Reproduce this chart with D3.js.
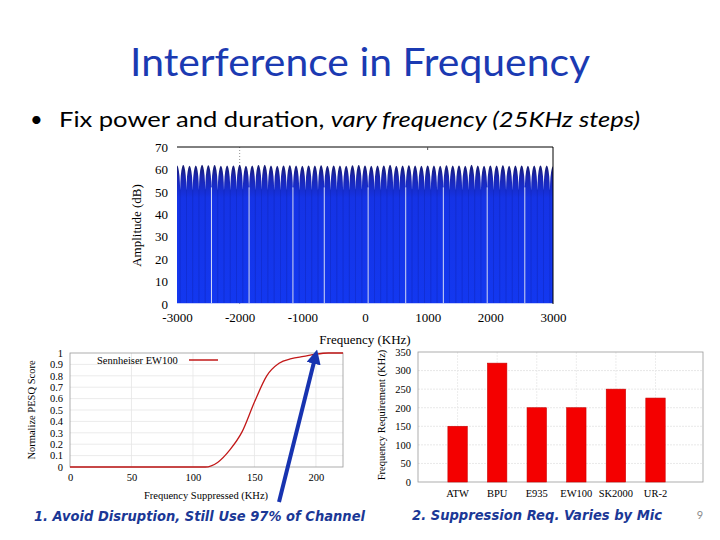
<!DOCTYPE html>
<html>
<head>
<meta charset="utf-8">
<script src="https://cdn.jsdelivr.net/npm/d3@7"></script>
<style>
  body { margin: 0; background: #fff; }
  svg { display: block; }
</style>
</head>
<body>
<div id="slide"></div>
<script>
// --- data ---
// spectrum sweep: one lobe every 100 KHz
const peakFreqs = [-3000, -2900, -2800, -2700, -2600, -2500, -2400, -2300, -2200, -2100,
    -2000, -1900, -1800, -1700, -1600, -1500, -1400, -1300, -1200, -1100,
    -1000, -900, -800, -700, -600, -500, -400, -300, -200, -100,
    0, 100, 200, 300, 400, 500, 600, 700, 800, 900,
    1000, 1100, 1200, 1300, 1400, 1500, 1600, 1700, 1800, 1900,
    2000, 2100, 2200, 2300, 2400, 2500, 2600, 2700, 2800, 2900, 3000];
const peakAmps = [61.8, 62.0, 61.6, 61.7, 62.1, 61.9, 62.0, 61.6, 61.7, 61.8,
    62.1, 61.6, 61.7, 62.0, 62.1, 61.7, 61.6, 61.8, 61.9, 61.7,
    61.6, 61.8, 61.7, 61.9, 61.6, 61.8, 61.7, 61.6, 61.9, 62.0,
    61.8, 61.6, 61.7, 61.8, 62.1, 61.6, 61.7, 61.9, 61.7, 61.6,
    61.8, 61.7, 61.6, 61.9, 61.7, 61.8, 61.6, 62.1, 61.7, 61.6,
    61.8, 61.7, 61.9, 61.6, 61.7, 61.8, 61.6, 61.7, 61.8, 61.7, 61.4];
// lobe profile: offset from peak (KHz) and drop below peak (dB)
const lobeOffsets = [-50, -46, -40, -30, -20, -10, 0, 10, 20, 30, 40, 46, 50];
const lobeDrops = [11, 7.5, 4.8, 2.5, 1.1, 0.3, 0, 0.3, 1.1, 2.5, 4.8, 7.5, 11];
// places where the plot shows a white seam down to the floor
const seamFreqs = [-2450, -1850, -1150, -650, 50, 650, 1250, 1950, 2550];
const ampTicks = [0, 10, 20, 30, 40, 50, 60, 70];
const freqTicks = [-3000, -2000, -1000, 0, 1000, 2000, 3000];

// PESQ vs suppressed bandwidth
const suppKHz = [0, 10, 20, 30, 40, 50, 60, 70, 80, 90, 100, 110, 120, 130, 140, 150, 160, 170, 180, 190, 200, 210, 222];
const pesqScore = [0, 0, 0, 0, 0, 0, 0, 0, 0, 0, 0, 0, 0.04, 0.15, 0.31, 0.57, 0.8, 0.91, 0.95, 0.97, 0.99, 1.0, 1.0];
const pesqTicks = [0, 0.1, 0.2, 0.3, 0.4, 0.5, 0.6, 0.7, 0.8, 0.9, 1];
const suppTicks = [0, 50, 100, 150, 200];

// suppression requirement per microphone
const mics = ['ATW', 'BPU', 'E935', 'EW100', 'SK2000', 'UR-2'];
const reqKHz = [150, 320, 200, 200, 250, 226];
const reqTicks = [0, 50, 100, 150, 200, 250, 300, 350];

const W = 720, H = 540;
const serif = '"Liberation Serif", "Times New Roman", serif';
const plain = d => String(d);   // keep ASCII hyphen like the slide

const svg = d3.select('#slide').append('svg')
    .attr('width', W)
    .attr('height', H)
    .attr('viewBox', `0 0 ${W} ${H}`);

// --- slide texts ---
svg.append('text')
    .attr('x', 360).attr('y', 76)
    .attr('text-anchor', 'middle')
    .attr('font-family', 'Lato, "Open Sans", sans-serif')
    .attr('font-size', 38)
    .attr('fill', '#1b3ab2')
    .attr('textLength', 460)
    .attr('lengthAdjust', 'spacingAndGlyphs')
    .text('Interference in Frequency');

svg.append('text')
    .attr('x', 30).attr('y', 127)
    .attr('font-family', 'Lato, sans-serif')
    .attr('font-size', 22)
    .text('•');
const bullet = svg.append('text')
    .attr('x', 59).attr('y', 127)
    .attr('font-family', 'Lato, "Open Sans", sans-serif')
    .attr('font-size', 21)
    .attr('fill', '#000')
    .attr('textLength', 581)
    .attr('lengthAdjust', 'spacingAndGlyphs');
bullet.append('tspan').text('Fix power and duration, ');
bullet.append('tspan').attr('font-style', 'italic').text('vary frequency (25KHz steps)');

// --- top chart: spectrum ---
const specBox = { x0: 177, x1: 553, y0: 147, y1: 304 };
const xF = d3.scaleLinear().domain([-3000, 3000]).range([specBox.x0, specBox.x1]);
const yA = d3.scaleLinear().domain([0, 70]).range([specBox.y1, specBox.y0]);

const defs = svg.append('defs');
const grad = defs.append('linearGradient')
    .attr('id', 'specFill')
    .attr('gradientUnits', 'userSpaceOnUse')
    .attr('x1', 0).attr('x2', 0)
    .attr('y1', yA(63)).attr('y2', yA(0));
grad.append('stop').attr('offset', '0%').attr('stop-color', '#141860');
grad.append('stop').attr('offset', '10%').attr('stop-color', '#1a26b0');
grad.append('stop').attr('offset', '25%').attr('stop-color', '#1533e6');
grad.append('stop').attr('offset', '100%').attr('stop-color', '#1338f0');

const specPoints = [];
peakFreqs.forEach((f, i) => {
    lobeOffsets.forEach((o, j) => {
        const fx = Math.max(-3000, Math.min(3000, f + o));
        specPoints.push([fx, peakAmps[i] - lobeDrops[j]]);
    });
});

const specG = svg.append('g');
// dotted grid line that shows above the peaks
specG.append('line')
    .attr('x1', xF(-2000)).attr('x2', xF(-2000))
    .attr('y1', yA(70)).attr('y2', yA(0))
    .attr('stroke', '#777').attr('stroke-width', 0.8)
    .attr('stroke-dasharray', '1,2');

specG.append('path')
    .datum(specPoints)
    .attr('fill', 'url(#specFill)')
    .attr('d', d3.area().x(d => xF(d[0])).y0(yA(0.3)).y1(d => yA(d[1])));

// dark striations between lobes
specG.selectAll('.stria').data(peakFreqs.slice(1)).enter()
    .append('line')
    .attr('x1', d => xF(d - 50)).attr('x2', d => xF(d - 50))
    .attr('y1', yA(51)).attr('y2', yA(0.5))
    .attr('stroke', '#1024b0').attr('stroke-width', 0.7).attr('opacity', 0.6);

specG.selectAll('.seam').data(seamFreqs).enter()
    .append('line')
    .attr('x1', d => xF(d)).attr('x2', d => xF(d))
    .attr('y1', yA(52)).attr('y2', yA(0.3))
    .attr('stroke', '#d8defa').attr('stroke-width', 1);

// frame
specG.append('path')
    .attr('d', `M${specBox.x0},${specBox.y0}H${specBox.x1}V${specBox.y1}`)
    .attr('fill', 'none').attr('stroke', '#000').attr('stroke-width', 1);
specG.append('line')
    .attr('x1', xF(1000)).attr('x2', xF(1000))
    .attr('y1', specBox.y0).attr('y2', specBox.y0 + 3)
    .attr('stroke', '#555');

const axYA = d3.axisLeft(yA).tickValues(ampTicks).tickSize(0).tickPadding(9).tickFormat(plain);
specG.append('g').attr('transform', `translate(${specBox.x0},0)`).call(axYA)
    .call(g => g.select('.domain').remove())
    .selectAll('text').attr('font-family', serif).attr('font-size', 13).attr('fill', '#000');
const axXF = d3.axisBottom(xF).tickValues(freqTicks).tickSize(0).tickPadding(9)
    .tickFormat(plain);
specG.append('g').attr('transform', `translate(0,${specBox.y1})`).call(axXF)
    .call(g => g.select('.domain').remove())
    .selectAll('text').attr('font-family', serif).attr('font-size', 13).attr('fill', '#000');

specG.append('text')
    .attr('x', 365).attr('y', 344)
    .attr('text-anchor', 'middle')
    .attr('font-family', serif).attr('font-size', 13)
    .text('Frequency (KHz)');
specG.append('text')
    .attr('transform', `translate(141,${(specBox.y0 + specBox.y1) / 2}) rotate(-90)`)
    .attr('text-anchor', 'middle')
    .attr('font-family', serif).attr('font-size', 13)
    .text('Amplitude (dB)');

// --- bottom left: PESQ ---
const bl = { x0: 70, x1: 343, y0: 353, y1: 467 };
const xS = d3.scaleLinear().domain([0, 222]).range([bl.x0, bl.x1]);
const yP = d3.scaleLinear().domain([0, 1]).range([bl.y1, bl.y0]);
const blG = svg.append('g');

blG.selectAll('.hg').data(pesqTicks.slice(1, -1)).enter().append('line')
    .attr('x1', bl.x0).attr('x2', bl.x1)
    .attr('y1', d => yP(d)).attr('y2', d => yP(d))
    .attr('stroke', '#e6e6e6').attr('stroke-width', 0.8);
blG.selectAll('.vg').data(suppTicks.slice(1)).enter().append('line')
    .attr('x1', d => xS(d)).attr('x2', d => xS(d))
    .attr('y1', bl.y0).attr('y2', bl.y1)
    .attr('stroke', '#e6e6e6').attr('stroke-width', 0.8);
blG.append('rect')
    .attr('x', bl.x0).attr('y', bl.y0)
    .attr('width', bl.x1 - bl.x0).attr('height', bl.y1 - bl.y0)
    .attr('fill', 'none').attr('stroke', '#999').attr('stroke-width', 0.8);

blG.append('path')
    .datum(suppKHz.map((k, i) => [k, pesqScore[i]]))
    .attr('fill', 'none')
    .attr('stroke', '#c21818').attr('stroke-width', 1.3)
    .attr('d', d3.line().x(d => xS(d[0])).y(d => yP(d[1])).curve(d3.curveMonotoneX));

blG.append('g').attr('transform', `translate(${bl.x0},0)`)
    .call(d3.axisLeft(yP).tickValues(pesqTicks).tickSize(0).tickPadding(7).tickFormat(d3.format('~g')))
    .call(g => g.select('.domain').remove())
    .selectAll('text').attr('font-family', serif).attr('font-size', 10.5).attr('fill', '#000');
blG.append('g').attr('transform', `translate(0,${bl.y1})`)
    .call(d3.axisBottom(xS).tickValues(suppTicks).tickSize(0).tickPadding(7))
    .call(g => g.select('.domain').remove())
    .selectAll('text').attr('font-family', serif).attr('font-size', 10.5).attr('fill', '#000');

blG.append('text')
    .attr('x', 97).attr('y', 364)
    .attr('font-family', serif).attr('font-size', 10.5)
    .text('Sennheiser EW100');
blG.append('line')
    .attr('x1', 189).attr('x2', 218).attr('y1', 360).attr('y2', 360)
    .attr('stroke', '#c21818').attr('stroke-width', 1.5);
blG.append('text')
    .attr('x', 206).attr('y', 499)
    .attr('text-anchor', 'middle')
    .attr('font-family', serif).attr('font-size', 10.5)
    .text('Frequency Suppressed (KHz)');
blG.append('text')
    .attr('transform', `translate(35,${(bl.y0 + bl.y1) / 2}) rotate(-90)`)
    .attr('text-anchor', 'middle')
    .attr('font-family', serif).attr('font-size', 10.5)
    .text('Normalize PESQ Score');

// --- bottom right: requirement bars ---
const br = { x0: 418, x1: 703, y0: 352, y1: 482 };
const xM = d3.scaleLinear().domain([-1, 6.2]).range([br.x0, br.x1]);
const yR = d3.scaleLinear().domain([0, 350]).range([br.y1, br.y0]);
const brG = svg.append('g');

brG.selectAll('.hg').data(reqTicks.slice(1, -1)).enter().append('line')
    .attr('x1', br.x0).attr('x2', br.x1)
    .attr('y1', d => yR(d)).attr('y2', d => yR(d))
    .attr('stroke', '#e2e2e2').attr('stroke-width', 0.8).attr('stroke-dasharray', '2,1');
brG.selectAll('.vg').data(mics.map((m, i) => i)).enter().append('line')
    .attr('x1', d => xM(d)).attr('x2', d => xM(d))
    .attr('y1', br.y0).attr('y2', br.y1)
    .attr('stroke', '#e8e8e8').attr('stroke-width', 0.8).attr('stroke-dasharray', '2,1');
brG.append('rect')
    .attr('x', br.x0).attr('y', br.y0)
    .attr('width', br.x1 - br.x0).attr('height', br.y1 - br.y0)
    .attr('fill', 'none').attr('stroke', '#999').attr('stroke-width', 0.8);

const barW = xM(0.49) - xM(0);
brG.selectAll('.bar').data(reqKHz).enter().append('rect')
    .attr('x', (d, i) => xM(i) - barW / 2)
    .attr('y', d => yR(d))
    .attr('width', barW)
    .attr('height', d => yR(0) - yR(d))
    .attr('fill', '#f40000')
    .attr('stroke', '#c80000').attr('stroke-width', 0.6);

brG.append('g').attr('transform', `translate(${br.x0},0)`)
    .call(d3.axisLeft(yR).tickValues(reqTicks).tickSize(0).tickPadding(7))
    .call(g => g.select('.domain').remove())
    .selectAll('text').attr('font-family', serif).attr('font-size', 10.5).attr('fill', '#000');
brG.selectAll('.mlab').data(mics).enter().append('text')
    .attr('x', (d, i) => xM(i)).attr('y', 497)
    .attr('text-anchor', 'middle')
    .attr('font-family', serif).attr('font-size', 10.5)
    .text(d => d);
brG.append('text')
    .attr('transform', `translate(385,${(br.y0 + br.y1) / 2 - 2}) rotate(-90)`)
    .attr('text-anchor', 'middle')
    .attr('font-family', serif).attr('font-size', 10.5)
    .text('Frequency Requirement (KHz)');

// --- captions and arrow ---
const capFont = '"DejaVu Sans", Verdana, sans-serif';
svg.append('text')
    .attr('x', 34).attr('y', 521)
    .attr('font-family', capFont).attr('font-size', 14)
    .attr('font-weight', 'bold').attr('font-style', 'italic')
    .attr('fill', '#1b3896')
    .attr('textLength', 331).attr('lengthAdjust', 'spacingAndGlyphs')
    .text('1. Avoid Disruption, Still Use 97% of Channel');
svg.append('text')
    .attr('x', 412).attr('y', 520)
    .attr('font-family', capFont).attr('font-size', 14)
    .attr('font-weight', 'bold').attr('font-style', 'italic')
    .attr('fill', '#1b3896')
    .attr('textLength', 250).attr('lengthAdjust', 'spacingAndGlyphs')
    .text('2. Suppression Req. Varies by Mic');
svg.append('text')
    .attr('x', 700).attr('y', 519)
    .attr('text-anchor', 'middle')
    .attr('font-family', 'Lato, sans-serif').attr('font-size', 11)
    .attr('fill', '#8c8c8c')
    .text('9');

defs.append('marker')
    .attr('id', 'head')
    .attr('viewBox', '0 0 10 10')
    .attr('refX', 4).attr('refY', 5)
    .attr('markerWidth', 3.6).attr('markerHeight', 3.6)
    .attr('orient', 'auto')
    .append('path').attr('d', 'M0,0L10,5L0,10Z').attr('fill', '#1733b0');
svg.append('line')
    .attr('x1', 279).attr('y1', 502)
    .attr('x2', 315).attr('y2', 358)
    .attr('stroke', '#1733b0').attr('stroke-width', 4)
    .attr('marker-end', 'url(#head)');
</script>
</body>
</html>
